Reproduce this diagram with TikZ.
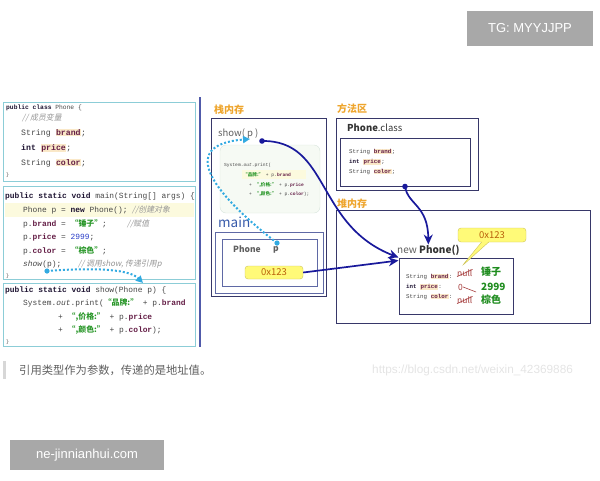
\documentclass[tikz,border=0pt]{standalone}
\usepackage{fontspec}
\setmainfont{Noto Sans CJK SC}
\setmonofont{Liberation Mono}
\newfontfamily\zh{Noto Sans CJK SC}
\newfontfamily\zhit[FakeSlant=0.2]{Noto Sans CJK SC}
\newfontfamily\lsans{Liberation Sans}
\usetikzlibrary{arrows.meta,shapes.callouts,calc}

\definecolor{codec}{RGB}{70,70,70}
\definecolor{kwc}{RGB}{30,20,50}
\definecolor{fldc}{RGB}{100,30,70}
\definecolor{strc}{RGB}{40,150,40}
\definecolor{numc}{RGB}{40,60,200}
\definecolor{cmtc}{RGB}{150,150,150}
\definecolor{hlc}{RGB}{250,232,200}
\definecolor{linehl}{RGB}{252,250,222}
\definecolor{boxc}{RGB}{140,205,215}
\definecolor{sepc}{RGB}{80,90,170}
\definecolor{areac}{RGB}{238,165,45}
\definecolor{framec}{RGB}{55,55,105}
\definecolor{innerc}{RGB}{95,105,165}
\definecolor{refc}{RGB}{25,25,155}
\definecolor{passc}{RGB}{50,170,225}
\definecolor{addrfill}{RGB}{255,250,120}
\definecolor{addrdraw}{RGB}{205,195,90}
\definecolor{addrtext}{RGB}{185,95,10}
\definecolor{mainc}{RGB}{55,90,170}
\definecolor{greyt}{RGB}{95,95,95}
\definecolor{valc}{RGB}{30,140,30}
\definecolor{nullc}{RGB}{165,60,60}
\definecolor{softc}{RGB}{215,228,220}
\definecolor{softfill}{RGB}{246,250,244}
\definecolor{wmfill}{RGB}{168,168,168}
\definecolor{urlc}{RGB}{228,228,228}
\definecolor{barc}{RGB}{215,215,215}

\newcommand\kw[1]{{\bfseries\color{kwc}#1}}
\newcommand\fld[1]{{\bfseries\color{fldc}#1}}
\newcommand\hfld[1]{{\setlength{\fboxsep}{0.4pt}\colorbox{hlc}{\bfseries\color{fldc}#1}}}
\newcommand\zstr[1]{{\zh\bfseries\color{strc}#1}}
\newcommand\cmt[1]{{\zhit\color{cmtc}#1}}

\begin{document}
\begin{tikzpicture}[x=1pt,y=-1pt,
  code/.style={anchor=west,inner sep=0pt,font=\ttfamily\fontsize{7.9}{9}\selectfont,text=codec},
  tinycode/.style={anchor=west,inner sep=0pt,font=\ttfamily\fontsize{5.8}{7}\selectfont,text=codec},
  minicode/.style={anchor=west,inner sep=0pt,font=\ttfamily\fontsize{4.6}{5}\selectfont,text=codec},
  codebox/.style={draw=boxc,line width=0.9pt},
  area/.style={anchor=west,inner sep=0pt,font=\bfseries\fontsize{10}{12}\selectfont,text=areac},
  frame/.style={draw=framec,line width=1pt},
  ref/.style={draw=refc,line width=1.7pt,-{Stealth[length=10pt,width=9pt]}},
  pass/.style={draw=passc,line width=2pt,dotted,-{Triangle[length=7pt,width=7pt]}},
  addr/.style={fill=addrfill,draw=addrdraw,rounded corners=3pt,inner sep=1pt,
    font=\fontsize{9.5}{11}\selectfont,text=addrtext},
  val/.style={anchor=west,inner sep=0pt,font=\bfseries\fontsize{10}{12}\selectfont,text=valc},
  nullv/.style={anchor=west,inner sep=0pt,font=\fontsize{8.5}{10}\selectfont,text=nullc},
  wmbox/.style={fill=wmfill,text=white,inner sep=0pt,font=\lsans\fontsize{13}{15}\selectfont}]
\useasboundingbox (0,0) rectangle (600,480);

% watermarks
\node[wmbox,minimum width=126,minimum height=35] (tg) at (530,28.5) {TG: MYYJJPP};
\node[wmbox,minimum width=154,minimum height=30] (site) at (87,455) {ne-jinnianhui.com};

% code: class Phone
\draw[codebox] (3,102) rectangle (195,181);
\node[code,font=\ttfamily\fontsize{6.3}{7}\selectfont] (c1) at (6,108) {\kw{public class} Phone \{};
\node[code] (c2) at (22,118) {\cmt{// 成员变量}};
\node[code,font=\ttfamily\fontsize{8.2}{9}\selectfont] (c3) at (21,133) {String \hfld{brand};};
\node[code,font=\ttfamily\fontsize{8.2}{9}\selectfont] (c4) at (21,148) {\kw{int} \hfld{price};};
\node[code,font=\ttfamily\fontsize{8.2}{9}\selectfont] (c5) at (21,163) {String \hfld{color};};
\node[code,font=\ttfamily\fontsize{5}{6}\selectfont] (c6) at (6,175) {\}};

% code: main
\draw[codebox] (3,186) rectangle (195,279);
\fill[linehl] (4.5,203) rectangle (193.5,217);
\node[code] (m1) at (5,196) {\kw{public static void} main(String[] args) \{};
\node[code] (m2) at (23,210) {Phone p = \kw{new} Phone(); \cmt{//创建对象}};
\node[code] (m3) at (23,224) {p.\fld{brand} = \zstr{“锤子”};};
\node[code] (m3c) at (127,224) {\cmt{//赋值}};
\node[code] (m4) at (23,237) {p.\fld{price} = {\color{numc}2999};};
\node[code] (m5) at (23,251) {p.\fld{color} = \zstr{“棕色”};};
\node[code] (m6) at (23,264) {\textit{show}(p);};
\node[code] (m6c) at (78,264) {\cmt{// 调用show, 传递引用p}};
\node[code,font=\ttfamily\fontsize{5}{6}\selectfont] (m7) at (6,276) {\}};

% code: show
\draw[codebox] (3,283) rectangle (195,346);
\node[code] (s1) at (5,290) {\kw{public static void} show(Phone p) \{};
\node[code] (s2) at (23,303) {System.\textit{out}.print(\zstr{“品牌:”} + p.\fld{brand}};
\node[code] (s3) at (58,317) {+ \zstr{“,价格:”} + p.\fld{price}};
\node[code] (s4) at (58,330) {+ \zstr{“,颜色:”} + p.\fld{color});};
\node[code,font=\ttfamily\fontsize{5}{6}\selectfont] (s5) at (6,342) {\}};

% separator
\draw[draw=sepc,line width=1.5pt] (200,97) -- (200,347);

% stack
\node[area] (stk) at (214,110) {栈内存};
\draw[frame] (211,118) rectangle (326,296);
\node[anchor=west,inner sep=0pt,font=\fontsize{9.5}{11}\selectfont,text=greyt] (showlbl) at (218,134) {show( p )};
\coordinate (showp) at (262,141);
\coordinate (showin) at (250,139);
\draw[draw=softc,fill=softfill,rounded corners=6pt] (220,145) rectangle (320,213);
\fill[linehl] (242,170) rectangle (306,179);
\node[minicode] (k1) at (224,165) {System.\textit{out}.print(};
\node[minicode] (k2) at (243,175) {\zstr{“品牌:”} + p.\fld{brand}};
\node[minicode] (k3) at (249,185) {+ \zstr{“,价格:”} + p.\fld{price}};
\node[minicode] (k4) at (249,194) {+ \zstr{“,颜色:”} + p.\fld{color});};
\node[anchor=west,inner sep=0pt,font=\fontsize{13.5}{15}\selectfont,text=mainc] (mainlbl) at (218,222) {main};
\draw[draw=innerc,line width=0.9pt] (215,232) rectangle (323,293);
\draw[draw=innerc,line width=0.9pt] (222,239) rectangle (317,286);
\node[anchor=west,inner sep=0pt,font=\bfseries\fontsize{8.5}{10}\selectfont,text=greyt] (ptype) at (233,249) {Phone};
\node[anchor=west,inner sep=0pt,font=\bfseries\fontsize{8.5}{10}\selectfont,text=greyt] (pvar) at (273,250) {p};
\coordinate (mainp) at (277,243);
\node[addr,minimum width=58,minimum height=13] (addr1) at (274,272.5) {0x123};

% method area
\node[area] (mth) at (337,109) {方法区};
\draw[frame] (336,118) rectangle (478,190);
\node[anchor=west,inner sep=0pt,font=\fontsize{9.5}{11}\selectfont,text=black!80] (clslbl) at (347,128) {\textbf{Phone}.class};
\node[frame,minimum width=130,minimum height=48,inner sep=0pt] (cls) at (405,162) {};
\node[tinycode] (f1) at (349,152) {String \hfld{brand};};
\node[tinycode] (f2) at (349,162) {\kw{int} \hfld{price};};
\node[tinycode] (f3) at (349,172) {String \hfld{color};};

% heap
\node[area] (hp) at (337,204) {堆内存};
\draw[frame] (336,210) rectangle (590,323);
\node[anchor=west,inner sep=0pt,font=\fontsize{10}{12}\selectfont,text=greyt] (newp) at (397,250) {new \textbf{\color{black!80}Phone()}};
\node[frame,minimum width=114,minimum height=56,inner sep=0pt] (obj) at (456,286) {};
\node[tinycode] (o1) at (406,277) {String \hfld{brand}:};
\node[tinycode] (o2) at (406,287) {\kw{int} \hfld{price}:};
\node[tinycode] (o3) at (406,297) {String \hfld{color}:};
\node[nullv] (n1) at (457,273) {null};
\node[nullv] (n2) at (458,287) {0};
\node[nullv] (n3) at (457,300) {null};
\draw[nullc,line width=0.6pt] (n1.south west) -- (n1.north east);
\draw[nullc,line width=0.6pt] (n2.east) -- ++(13,5);
\draw[nullc,line width=0.6pt] (n3.south west) -- (n3.north east);
\node[val] (v1) at (481,272) {锤子};
\node[val] (v2) at (481,287) {2999};
\node[val] (v3) at (481,300) {棕色};
\node[addr,rectangle callout,callout absolute pointer={(462,266)},minimum width=68,minimum height=14] (addr2) at (492,235) {0x123};

% references
\draw[ref] (showp) .. controls (330,140) and (315,225) .. (obj.north west);
\draw[ref] (addr1.east) -- ($(obj.north west)+(0,3)$);
\draw[ref] (cls.south) .. controls (408,205) and (428,205) .. (newp.north);
\fill[refc] (showp) circle (2.8);
\fill[refc] (cls.south) circle (2.8);

% passing p
\coordinate (callp) at (47,271);
\coordinate (showdecl) at (143,283);
\draw[pass] (callp) .. controls (100,267) and (130,270) .. (showdecl);
\draw[pass] (mainp) .. controls (215,195) and (175,145) .. (showin);
\fill[passc] (callp) circle (2.6);
\fill[passc] (mainp) circle (2.6);

% caption
\fill[barc] (3,361) rectangle (6,379);
\node[anchor=west,inner sep=0pt,font=\fontsize{11.3}{13}\selectfont,text=greyt] (cap) at (19,370) {引用类型作为参数，传递的是地址值。};
\node[anchor=west,inner sep=0pt,font=\lsans\fontsize{11.8}{13}\selectfont,text=urlc] (url) at (372,370) {https://blog.csdn.net/weixin\_42369886};
\end{tikzpicture}
\end{document}
